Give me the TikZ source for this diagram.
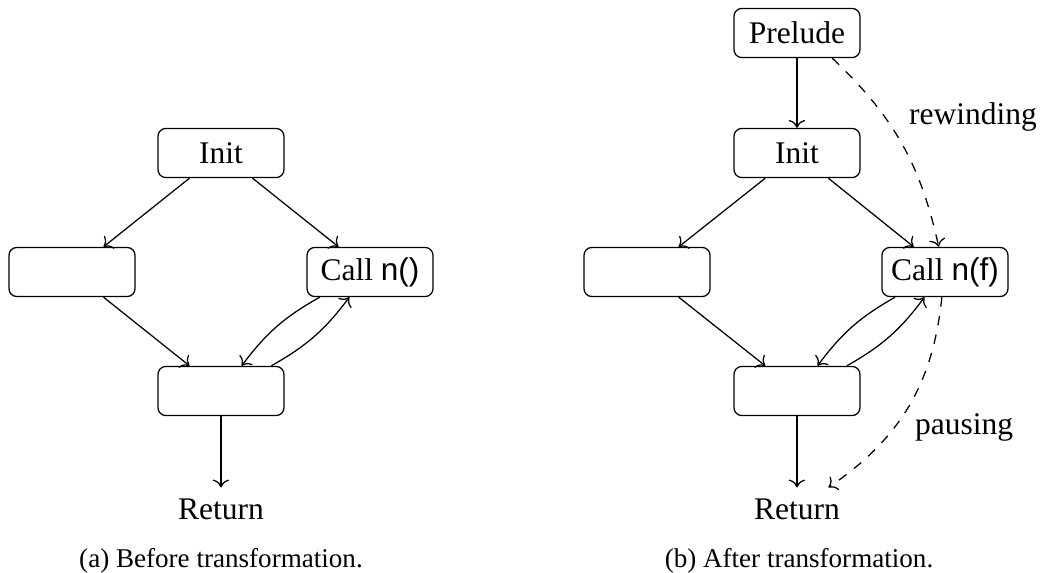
\documentclass[tikz,border=0pt]{standalone}
\usepackage{fontspec}
\setmainfont{Liberation Serif}
\setsansfont{Liberation Sans}
\usepackage{tikz}
\usetikzlibrary{positioning, arrows.meta, calc}

\begin{document}
\begin{tikzpicture}[x=0.3175pt, y=-0.3175pt,
    block/.style={draw, rounded corners=2.5pt, minimum width=40pt, minimum height=15.6pt, inner sep=0pt},
    flow/.style={->},
    jump/.style={->, dashed},
    capt/.style={font=\fontsize{8.6}{10}\selectfont}]
    \useasboundingbox (0,0) rectangle (1046,573);

    % (a) before
    \node[block] (initA) at (221,153) {Init};
    \node[block] (leftA) at (72,272) {};
    \node[block] (callA) at (370,272) {Call \textsf{n()}};
    \node[block] (joinA) at (221,391) {};
    \node (retA) at (221,509) {Return};
    \node[capt] (captA) at (221,561) {(a) Before transformation.};

    \draw[flow] (initA) -- (leftA);
    \draw[flow] (initA) -- (callA);
    \draw[flow] (leftA) -- (joinA);
    \draw[flow] (callA) to[bend right=12] (joinA);
    \draw[flow] (joinA) to[bend right=12] (callA);
    \draw[flow] (joinA) -- (retA);

    % (b) after
    \node[block] (preludeB) at (797,33) {Prelude};
    \node[block] (initB) at (797,153) {Init};
    \node[block] (leftB) at (647,272) {};
    \node[block] (callB) at (945,272) {Call \textsf{n(f)}};
    \node[block] (joinB) at (797,391) {};
    \node (retB) at (797,509) {Return};
    \node (rewindB) at (973,117) {rewinding};
    \node (pauseB) at (964,427) {pausing};
    \node[capt] (captB) at (799,561) {(b) After transformation.};

    \draw[flow] (preludeB) -- (initB);
    \draw[flow] (initB) -- (leftB);
    \draw[flow] (initB) -- (callB);
    \draw[flow] (leftB) -- (joinB);
    \draw[flow] (callB) to[bend right=12] (joinB);
    \draw[flow] (joinB) to[bend right=12] (callB);
    \draw[flow] (joinB) -- (retB);
    \draw[jump] ([xshift=-9pt]preludeB.south east) to[bend left=17] ([xshift=-2pt]callB.north);
    \draw[jump] ([xshift=-1pt]callB.south) to[bend left=25] ([xshift=10pt]retB.north);
\end{tikzpicture}
\end{document}
